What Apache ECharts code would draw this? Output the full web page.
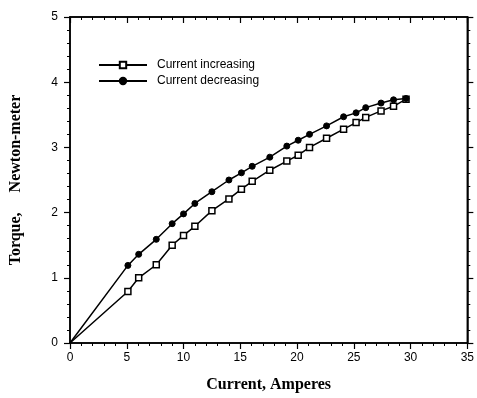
<!DOCTYPE html>
<html>
<head>
<meta charset="utf-8">
<script src="https://cdn.jsdelivr.net/npm/echarts@6/dist/echarts.min.js"></script>
<style>
html, body { margin: 0; padding: 0; background: #fff; }
#chart { width: 477px; height: 398px; }
</style>
</head>
<body>
<div id="chart"></div>
<script>
// current values (A), same for both runs
var current = [0, 5.1, 6.05, 7.6, 9.0, 10.0, 11.0, 12.5, 14.0, 15.1, 16.05, 17.6, 19.1, 20.1, 21.1, 22.6, 24.1, 25.2, 26.05, 27.4, 28.5, 29.6];
var torqueUp = [0, 0.79, 1.0, 1.2, 1.5, 1.65, 1.79, 2.03, 2.21, 2.36, 2.48, 2.65, 2.79, 2.88, 3.0, 3.14, 3.28, 3.38, 3.46, 3.56, 3.63, 3.74];
var torqueDown = [0, 1.19, 1.36, 1.59, 1.83, 1.98, 2.14, 2.32, 2.5, 2.61, 2.71, 2.85, 3.02, 3.11, 3.2, 3.33, 3.47, 3.53, 3.61, 3.68, 3.73, 3.75];
var names = ['Current increasing', 'Current decreasing'];

var chart = echarts.init(document.getElementById('chart'));

function pairs(ys) {
    var out = [];
    for (var i = 0; i < current.length; i++) {
        out.push({
            value: [current[i], ys[i]],
            // no marker at the origin
            symbolSize: i === 0 ? 0 : undefined
        });
    }
    return out;
}

// one axis with major + minor ticks
function axis(inside, extra) {
    var a = {
        type: 'value',
        axisLine: { show: true, onZero: false, lineStyle: { color: '#000', width: 1.5 } },
        axisTick: { show: true, inside: inside, length: 6, lineStyle: { color: '#000', width: 1.2 } },
        minorTick: { show: true, splitNumber: 5, length: 3, lineStyle: { color: '#000', width: 1 } },
        splitLine: { show: false },
        minorSplitLine: { show: false }
    };
    for (var k in extra) a[k] = extra[k];
    return a;
}

var labelFont = { color: '#000', fontSize: 12, fontFamily: 'Liberation Sans, Arial, sans-serif' };
var titleFont = { color: '#000', fontSize: 16, fontWeight: 'bold', fontFamily: 'Liberation Serif, Times New Roman, serif' };

var option = {
    backgroundColor: '#fff',
    animation: false,
    grid: { left: 70, right: 8, top: 17, bottom: 51, show: true, borderColor: '#000', borderWidth: 1.5, backgroundColor: 'transparent' },
    legend: {
        orient: 'vertical',
        left: 93,
        top: 54,
        itemWidth: 48,
        itemHeight: 8,
        itemGap: 4,
        data: names,
        textStyle: { color: '#000', fontSize: 12, fontFamily: 'Liberation Sans, Arial, sans-serif', padding: [0, 0, 0, 5] }
    },
    xAxis: [
        axis(false, {
            min: 0, max: 35, interval: 5, position: 'bottom',
            name: 'Current, Amperes',
            nameLocation: 'middle',
            nameGap: 34,
            nameTextStyle: titleFont,
            axisLabel: Object.assign({ margin: 9 }, labelFont)
        }),
        axis(true, {
            min: 0, max: 35, interval: 5, position: 'top',
            axisLabel: { show: false }
        })
    ],
    yAxis: [
        axis(false, {
            min: 0, max: 5, interval: 1, position: 'left',
            name: 'Torque,     Newton-meter',
            nameLocation: 'middle',
            nameGap: 46,
            nameTextStyle: titleFont,
            axisLabel: Object.assign({ margin: 12 }, labelFont)
        }),
        axis(false, {
            min: 0, max: 5, interval: 1, position: 'right',
            axisLabel: { show: false }
        })
    ],
    series: [
        {
            name: names[0],
            type: 'line',
            data: pairs(torqueUp),
            symbol: 'rect',
            symbolSize: 6,
            lineStyle: { color: '#000', width: 1.5 },
            itemStyle: { color: '#fff', borderColor: '#000', borderWidth: 1.5 }
        },
        {
            name: names[1],
            type: 'line',
            data: pairs(torqueDown),
            symbol: 'circle',
            symbolSize: 6,
            lineStyle: { color: '#000', width: 1.5 },
            itemStyle: { color: '#000', borderColor: '#000', borderWidth: 1 }
        },
        // empty series so the mirror axes on top and right get drawn
        { type: 'line', xAxisIndex: 1, yAxisIndex: 1, data: [], silent: true }
    ]
};

chart.setOption(option, true);
</script>
</body>
</html>
